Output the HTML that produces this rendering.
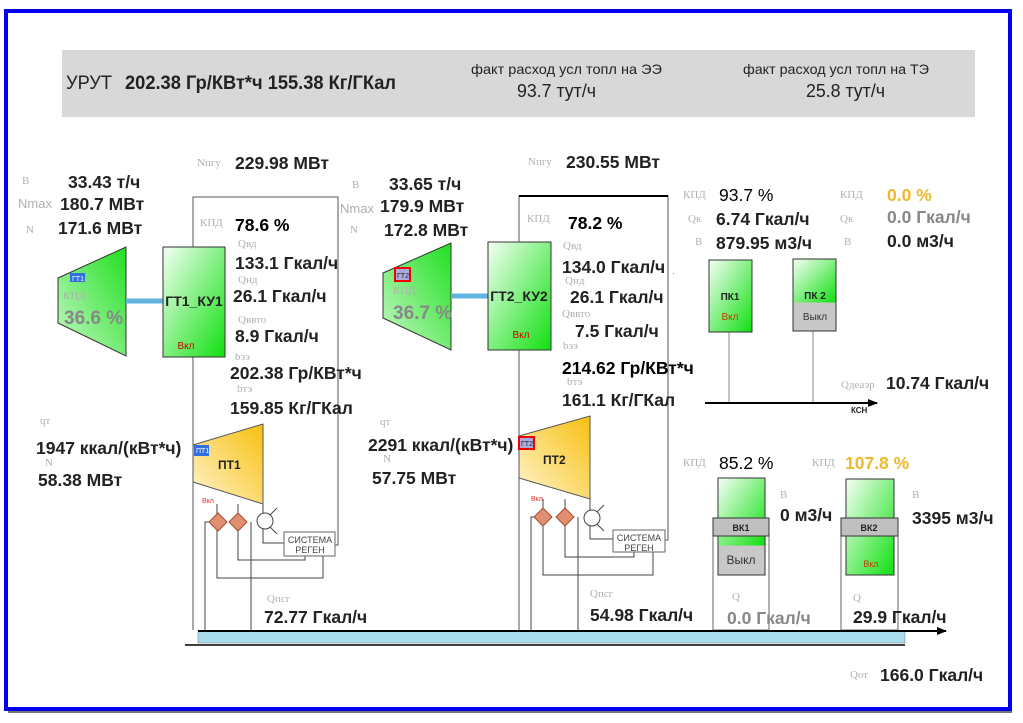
<!DOCTYPE html>
<html><head><meta charset="utf-8"><style>
html,body{margin:0;padding:0;background:#fff;}
svg{display:block;}
text{font-family:"Liberation Sans",sans-serif;}
.v{font-weight:bold;font-size:17.5px;fill:#222;}
.l{font-family:"Liberation Serif",serif;font-size:11px;fill:#b0b0b0;}
</style></head><body>
<svg width="1023" height="723" viewBox="0 0 1023 723" xmlns="http://www.w3.org/2000/svg">
<defs>
<linearGradient id="g" x1="0" y1="0" x2="1" y2="1"><stop offset="0" stop-color="#f4fff4"/><stop offset="1" stop-color="#10e010"/></linearGradient>
<linearGradient id="gt" x1="0" y1="1" x2="1" y2="0"><stop offset="0" stop-color="#c8f8c8"/><stop offset="1" stop-color="#20e020"/></linearGradient>
<linearGradient id="y" x1="0" y1="1" x2="1" y2="0"><stop offset="0" stop-color="#fff4d0"/><stop offset="1" stop-color="#f8c010"/></linearGradient>
<marker id="ar" markerUnits="userSpaceOnUse" markerWidth="10" markerHeight="10" refX="9" refY="5" orient="auto"><path d="M0,1 L10,5 L0,9z" fill="#000"/></marker>
</defs>
<rect x="0" y="0" width="1023" height="723" fill="#fff"/>
<rect x="6" y="11" width="1004" height="698" fill="none" stroke="#0000ee" stroke-width="4"/>
<line x1="8" y1="712" x2="1012" y2="712" stroke="#777" stroke-width="2"/>
<!-- header -->
<rect x="62" y="50" width="913" height="67" fill="#d8d8d8"/>
<text x="66" y="89" textLength="46" lengthAdjust="spacingAndGlyphs" style="font-size:19px;fill:#222">УРУТ</text>
<text x="125" y="89" class="v" textLength="271" lengthAdjust="spacingAndGlyphs" style="font-size:19px">202.38 Гр/КВт*ч  155.38 Кг/ГКал</text>
<text x="471" y="74" textLength="191" lengthAdjust="spacingAndGlyphs" style="font-size:14px;fill:#222">факт расход усл топл на ЭЭ</text>
<text x="517" y="97" textLength="79" lengthAdjust="spacingAndGlyphs" style="font-size:18px;fill:#222">93.7 тут/ч</text>
<text x="743" y="74" textLength="186" lengthAdjust="spacingAndGlyphs" style="font-size:14px;fill:#222">факт расход усл топл на ТЭ</text>
<text x="806" y="97" textLength="79" lengthAdjust="spacingAndGlyphs" style="font-size:18px;fill:#222">25.8 тут/ч</text>

<!-- GT1 block -->
<text x="22" y="184" class="l">B</text><text x="18" y="208" class="l" style="font-family:'Liberation Sans';font-size:13px">Nmax</text><text x="26" y="233" class="l">N</text>
<text x="68" y="188" class="v">33.43 т/ч</text><text x="60" y="210" class="v">180.7 МВт</text><text x="58" y="234" class="v">171.6 МВт</text>
<text x="197" y="166" class="l">Nпгу</text><text x="235" y="169" class="v">229.98 МВт</text>
<polyline points="193,630 193,197 338,197 338,545 335,545" fill="none" stroke="#555" stroke-width="1"/>
<polygon points="58,278 126,247 126,356 58,323" fill="url(#gt)" stroke="#333"/>
<rect x="70" y="273" width="15" height="9" fill="#3070e0"/><text x="72" y="281" style="font-size:7px;fill:#fff">ГТ1</text>
<text x="63" y="299" class="l">КПД</text><text x="64" y="324" class="v" style="font-size:19px;fill:#888">36.6 %</text>
<line x1="126" y1="301" x2="163" y2="301" stroke="#5fb4e0" stroke-width="5"/>
<rect x="163" y="247" width="62" height="110" fill="url(#g)" stroke="#333"/>
<text x="194" y="306" text-anchor="middle" style="font-size:14px;font-weight:bold;fill:#222">ГТ1_КУ1</text>
<text x="186" y="349" text-anchor="middle" style="font-size:10px;fill:#c00">Вкл</text>
<text x="200" y="226" class="l">КПД</text><text x="235" y="231" class="v" style="fill:#000">78.6 %</text>
<text x="238" y="247" class="l">Qвд</text><text x="235" y="269" class="v">133.1 Гкал/ч</text>
<text x="238" y="283" class="l">Qнд</text><text x="233" y="302" class="v">26.1 Гкал/ч</text>
<text x="238" y="323" class="l">Qввто</text><text x="235" y="342" class="v">8.9 Гкал/ч</text>
<text x="235" y="360" class="l">bээ</text><text x="230" y="379" class="v">202.38 Гр/КВт*ч</text>
<text x="237" y="392" class="l">bтэ</text><text x="230" y="414" class="v">159.85 Кг/ГКал</text>
<polygon points="193,445 263,424 263,504 193,482" fill="url(#y)" stroke="#555"/>
<rect x="194" y="445" width="15" height="11" fill="#3070e0"/><text x="196" y="453" style="font-size:7px;fill:#fff">ПТ1</text>
<text x="218" y="469" style="font-size:12px;font-weight:bold;fill:#222">ПТ1</text>
<text x="202" y="503" style="font-size:7px;fill:#e03030">Вкл</text>
<g fill="none" stroke="#444">
<polyline points="205,630 205,522 210,522"/><line x1="251" y1="522" x2="251" y2="630"/>
<polyline points="217,504 217,578 323,578 323,556"/><polyline points="238,504 238,560 305,560 305,556"/>
<polyline points="263,504 263,543 284,543"/>
<rect x="284" y="532" width="51" height="24" fill="#fff" stroke="#666"/>
<circle cx="265" cy="521" r="8" fill="#fff"/><line x1="270" y1="515" x2="277" y2="508"/><line x1="270" y1="527" x2="277" y2="534"/>
</g>
<polygon points="218,513 227,522 218,531 209,522" fill="#e09070" stroke="#a05030"/>
<polygon points="238,513 247,522 238,531 229,522" fill="#e09070" stroke="#a05030"/>
<text x="310" y="543" text-anchor="middle" style="font-size:9px;fill:#444">СИСТЕМА</text><text x="310" y="553" text-anchor="middle" style="font-size:9px;fill:#444">РЕГЕН</text>
<text x="40" y="424" class="l">qт</text><text x="36" y="454" class="v">1947 ккал/(кВт*ч)</text>
<text x="45" y="466" class="l">N</text><text x="38" y="486" class="v">58.38 МВт</text>
<text x="267" y="602" class="l">Qпсг</text><text x="264" y="623" class="v">72.77 Гкал/ч</text>

<!-- GT2 block -->
<text x="352" y="188" class="l">B</text><text x="340" y="213" class="l" style="font-family:'Liberation Sans';font-size:13px">Nmax</text><text x="350" y="233" class="l">N</text>
<text x="389" y="190" class="v">33.65 т/ч</text><text x="380" y="212" class="v">179.9 МВт</text><text x="384" y="236" class="v">172.8 МВт</text>
<text x="528" y="165" class="l">Nпгу</text><text x="566" y="168" class="v">230.55 МВт</text>
<polyline points="519,630 519,196 668,196 668,540 665,540" fill="none" stroke="#555" stroke-width="1"/>
<line x1="519" y1="196" x2="668" y2="196" stroke="#000" stroke-width="2"/>
<polygon points="383,273 451,243 451,350 383,318" fill="url(#gt)" stroke="#333"/>
<rect x="395" y="268" width="15" height="13" fill="#aad" stroke="#e00" stroke-width="2"/><text x="397" y="278" style="font-size:7px;fill:#222">ГТ2</text>
<text x="393" y="294" class="l">КПД</text><text x="393" y="319" class="v" style="font-size:19px;fill:#888">36.7 %</text>
<line x1="451" y1="296" x2="488" y2="296" stroke="#5fb4e0" stroke-width="5"/>
<rect x="488" y="242" width="63" height="108" fill="url(#g)" stroke="#333"/>
<text x="519" y="301" text-anchor="middle" style="font-size:14px;font-weight:bold;fill:#222">ГТ2_КУ2</text>
<text x="521" y="338" text-anchor="middle" style="font-size:10px;fill:#c00">Вкл</text>
<text x="527" y="222" class="l">КПД</text><text x="568" y="229" class="v" style="fill:#000">78.2 %</text>
<text x="563" y="249" class="l">Qвд</text><text x="562" y="273" class="v">134.0 Гкал/ч</text>
<text x="565" y="284" class="l">Qнд</text><text x="570" y="303" class="v">26.1 Гкал/ч</text>
<text x="562" y="317" class="l">Qввто</text><text x="575" y="337" class="v">7.5 Гкал/ч</text>
<text x="563" y="349" class="l">bээ</text><text x="562" y="374" class="v" style="fill:#000">214.62 Гр/КВт*ч</text>
<text x="567" y="385" class="l">bтэ</text><text x="562" y="406" class="v">161.1 Кг/ГКал</text>
<polygon points="519,436 590,416 590,499 519,478" fill="url(#y)" stroke="#555"/>
<rect x="519" y="437" width="15" height="12" fill="#aad" stroke="#e00" stroke-width="2"/><text x="521" y="446" style="font-size:7px;fill:#222">ГТ2</text>
<text x="543" y="464" style="font-size:12px;font-weight:bold;fill:#222">ПТ2</text>
<text x="531" y="501" style="font-size:7px;fill:#e03030">Вкл</text>
<g fill="none" stroke="#444">
<polyline points="531,630 531,517 536,517"/><line x1="578" y1="517" x2="578" y2="630"/>
<polyline points="543,499 543,575 653,575 653,552"/><polyline points="565,499 565,557 634,557 634,552"/>
<polyline points="590,499 590,539 613,539"/>
<rect x="613" y="530" width="52" height="22" fill="#fff" stroke="#666"/>
<circle cx="592" cy="518" r="8" fill="#fff"/><line x1="597" y1="512" x2="604" y2="505"/><line x1="597" y1="524" x2="604" y2="531"/>
</g>
<polygon points="543,508 552,517 543,526 534,517" fill="#e09070" stroke="#a05030"/>
<polygon points="565,508 574,517 565,526 556,517" fill="#e09070" stroke="#a05030"/>
<text x="639" y="541" text-anchor="middle" style="font-size:9px;fill:#444">СИСТЕМА</text><text x="639" y="551" text-anchor="middle" style="font-size:9px;fill:#444">РЕГЕН</text>
<text x="380" y="425" class="l">qт</text><text x="368" y="451" class="v">2291 ккал/(кВт*ч)</text>
<text x="383" y="462" class="l">N</text><text x="372" y="484" class="v">57.75 МВт</text>
<text x="590" y="597" class="l">Qпсг</text><text x="590" y="621" class="v">54.98 Гкал/ч</text>

<!-- PK -->
<text x="683" y="198" class="l">КПД</text><text x="719" y="201" style="font-size:17.5px;fill:#000">93.7 %</text>
<text x="688" y="222" class="l">Qк</text><text x="716" y="225" class="v">6.74 Гкал/ч</text>
<text x="695" y="245" class="l">B</text><text x="716" y="249" class="v">879.95 м3/ч</text>
<text x="840" y="198" class="l">КПД</text><text x="887" y="201" class="v" style="fill:#f0b828">0.0 %</text>
<text x="840" y="222" class="l">Qк</text><text x="887" y="223" class="v" style="fill:#888">0.0 Гкал/ч</text>
<text x="844" y="245" class="l">B</text><text x="887" y="247" class="v">0.0 м3/ч</text>
<text x="672" y="274" style="font-size:10px;fill:#888">.</text>
<line x1="729" y1="332" x2="729" y2="402" stroke="#888"/><line x1="813" y1="331" x2="813" y2="402" stroke="#888"/>
<rect x="709" y="260" width="43" height="72" fill="url(#g)" stroke="#333"/>
<text x="730" y="300" text-anchor="middle" style="font-size:10px;font-weight:bold;fill:#222">ПК1</text>
<text x="730" y="320" text-anchor="middle" style="font-size:10px;fill:#c04000">Вкл</text>
<rect x="793" y="259" width="43" height="72" fill="#c8c8c8" stroke="#333"/>
<rect x="793.5" y="259.5" width="42" height="43" fill="url(#g)"/>
<text x="815" y="299" text-anchor="middle" style="font-size:10px;font-weight:bold;fill:#222">ПК 2</text>
<text x="815" y="320" text-anchor="middle" style="font-size:10px;fill:#333">Выкл</text>
<line x1="705" y1="403" x2="877" y2="403" stroke="#000" stroke-width="2" marker-end="url(#ar)"/>
<text x="851" y="413" style="font-size:8px;font-weight:bold;fill:#222">КСН</text>
<text x="841" y="388" class="l">Qдеаэр</text><text x="886" y="389" class="v">10.74 Гкал/ч</text>

<!-- VK -->
<text x="683" y="466" class="l">КПД</text><text x="719" y="469" style="font-size:17.5px;fill:#000">85.2 %</text>
<rect x="713" y="518" width="56" height="112" fill="#fff" stroke="#666"/>
<rect x="718" y="478" width="47" height="97" fill="#c8c8c8" stroke="#333"/>
<rect x="718.5" y="478.5" width="46" height="67" fill="url(#g)"/>
<rect x="713" y="518" width="56" height="18" fill="#c0c0c0" stroke="#333"/>
<text x="741" y="531" text-anchor="middle" style="font-size:9px;font-weight:bold;fill:#222">ВК1</text>
<text x="741" y="564" text-anchor="middle" style="font-size:12px;fill:#333">Выкл</text>
<text x="780" y="498" class="l">B</text><text x="780" y="521" class="v">0 м3/ч</text>
<text x="732" y="600" class="l">Q</text><text x="727" y="624" class="v" style="fill:#888">0.0 Гкал/ч</text>
<text x="812" y="466" class="l">КПД</text><text x="845" y="469" class="v" style="fill:#f0b828">107.8 %</text>
<rect x="841" y="518" width="57" height="112" fill="#fff" stroke="#666"/>
<rect x="846" y="479" width="48" height="96" fill="url(#g)" stroke="#333"/>
<rect x="841" y="518" width="57" height="18" fill="#c0c0c0" stroke="#333"/>
<text x="869" y="531" text-anchor="middle" style="font-size:9px;font-weight:bold;fill:#222">ВК2</text>
<text x="871" y="567" text-anchor="middle" style="font-size:9px;fill:#c04000">Вкл</text>
<text x="912" y="498" class="l">B</text><text x="912" y="524" class="v">3395 м3/ч</text>
<text x="853" y="601" class="l">Q</text><text x="853" y="623" class="v">29.9 Гкал/ч</text>

<!-- main pipe -->
<rect x="198" y="631" width="707" height="12" fill="#a8dcec" stroke="#777" stroke-width="0.5"/>
<line x1="198" y1="631" x2="946" y2="631" stroke="#000" stroke-width="2" marker-end="url(#ar)"/>
<line x1="185" y1="645" x2="905" y2="645" stroke="#000" stroke-width="1.5"/>
<text x="850" y="678" class="l">Qот</text><text x="880" y="681" class="v">166.0 Гкал/ч</text>
</svg>
</body></html>
